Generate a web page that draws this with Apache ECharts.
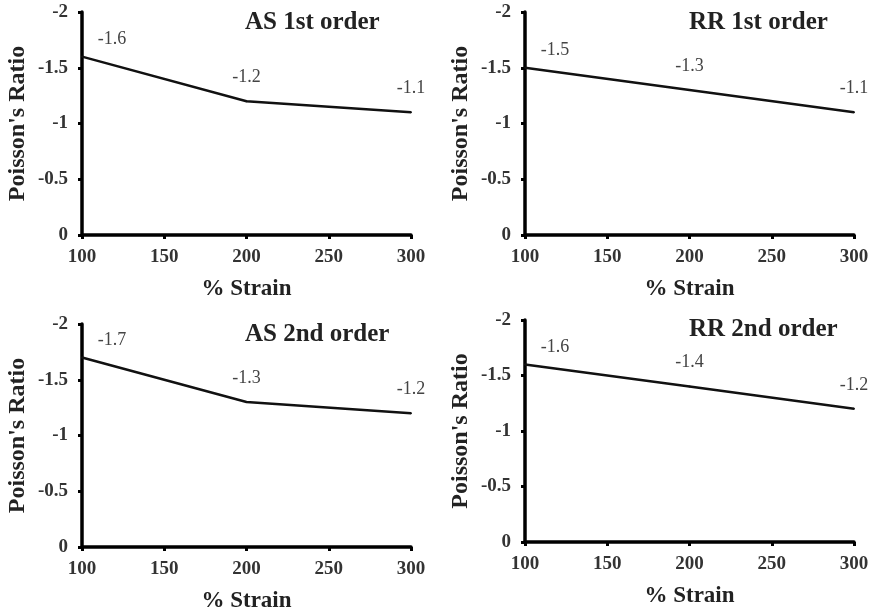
<!DOCTYPE html>
<html>
<head>
<meta charset="utf-8">
<script src="https://cdn.jsdelivr.net/npm/echarts@6/dist/echarts.min.js"></script>
<style>
  html, body { margin: 0; padding: 0; background: #fff; }
  #main { width: 875px; height: 615px; }
</style>
</head>
<body>
<div id="main"></div>
<script>
// data
var strain = [100, 200, 300];
var asFirst = [-1.6, -1.2, -1.1];
var rrFirst = [-1.5, -1.3, -1.1];
var asSecond = [-1.7, -1.3, -1.2];
var rrSecond = [-1.6, -1.4, -1.2];
var titles = ['AS 1st order', 'RR 1st order', 'AS 2nd order', 'RR 2nd order'];
var xTicks = [100, 150, 200, 250, 300];
var yTicks = [0, -0.5, -1, -1.5, -2];

var serif = '"Liberation Serif", "DejaVu Serif", serif';
var chartDom = document.getElementById('main');
var myChart = echarts.init(chartDom);

var grids = [
  { left: 82, top: 12, width: 329, height: 223 },
  { left: 525, top: 12, width: 329, height: 223 },
  { left: 82, top: 324, width: 329, height: 223 },
  { left: 525, top: 320, width: 329, height: 222 }
];
var titlePos = [[245, 10], [689, 10], [245, 322], [689, 317]];
var allSeries = [asFirst, rrFirst, asSecond, rrSecond];

function makeData(vals) {
  return vals.map(function (v, i) {
    var item = { value: [strain[i], v] };
    if (i === 0) {
      item.label = { offset: [30, 7] };
    }
    return item;
  });
}

var option = {
  backgroundColor: '#fff',
  animation: false,
  title: titles.map(function (t, i) {
    return {
      text: t,
      left: titlePos[i][0],
      top: titlePos[i][1],
      padding: 0,
      textStyle: { fontFamily: serif, fontWeight: 'bold', fontSize: 25, color: '#222' }
    };
  }),
  grid: grids,
  xAxis: grids.map(function (g, i) {
    return {
      type: 'value',
      gridIndex: i,
      min: xTicks[0],
      max: xTicks[xTicks.length - 1],
      interval: 50,
      name: '% Strain',
      nameLocation: 'middle',
      nameGap: 43,
      nameTextStyle: { fontFamily: serif, fontWeight: 'bold', fontSize: 23, color: '#222' },
      axisLine: { lineStyle: { color: '#000', width: 3.5 } },
      axisTick: { show: true, length: 4, lineStyle: { color: '#000', width: 3 } },
      axisLabel: { fontFamily: serif, fontWeight: 'bold', fontSize: 19, color: '#333', margin: 13 },
      splitLine: { show: false }
    };
  }),
  yAxis: grids.map(function (g, i) {
    return {
      type: 'value',
      gridIndex: i,
      min: yTicks[yTicks.length - 1],
      max: yTicks[0],
      interval: 0.5,
      inverse: true,
      name: "Poisson's Ratio",
      nameLocation: 'middle',
      nameGap: 52,
      nameTextStyle: { fontFamily: serif, fontWeight: 'bold', fontSize: 24, color: '#222' },
      axisLine: { show: true, lineStyle: { color: '#000', width: 3.5 } },
      axisTick: { show: true, length: 4, lineStyle: { color: '#000', width: 3 } },
      axisLabel: { fontFamily: serif, fontWeight: 'bold', fontSize: 19, color: '#333', margin: 14 },
      splitLine: { show: false }
    };
  }),
  series: allSeries.map(function (vals, i) {
    return {
      type: 'line',
      xAxisIndex: i,
      yAxisIndex: i,
      data: makeData(vals),
      symbol: 'circle',
      symbolSize: 2,
      showSymbol: true,
      showAllSymbol: true,
      itemStyle: { color: '#111' },
      lineStyle: { color: '#111', width: 2.5 },
      label: {
        show: true,
        position: 'top',
        distance: 14,
        fontFamily: serif,
        fontSize: 18,
        color: '#444'
      }
    };
  })
};

option && myChart.setOption(option);
</script>
</body>
</html>
